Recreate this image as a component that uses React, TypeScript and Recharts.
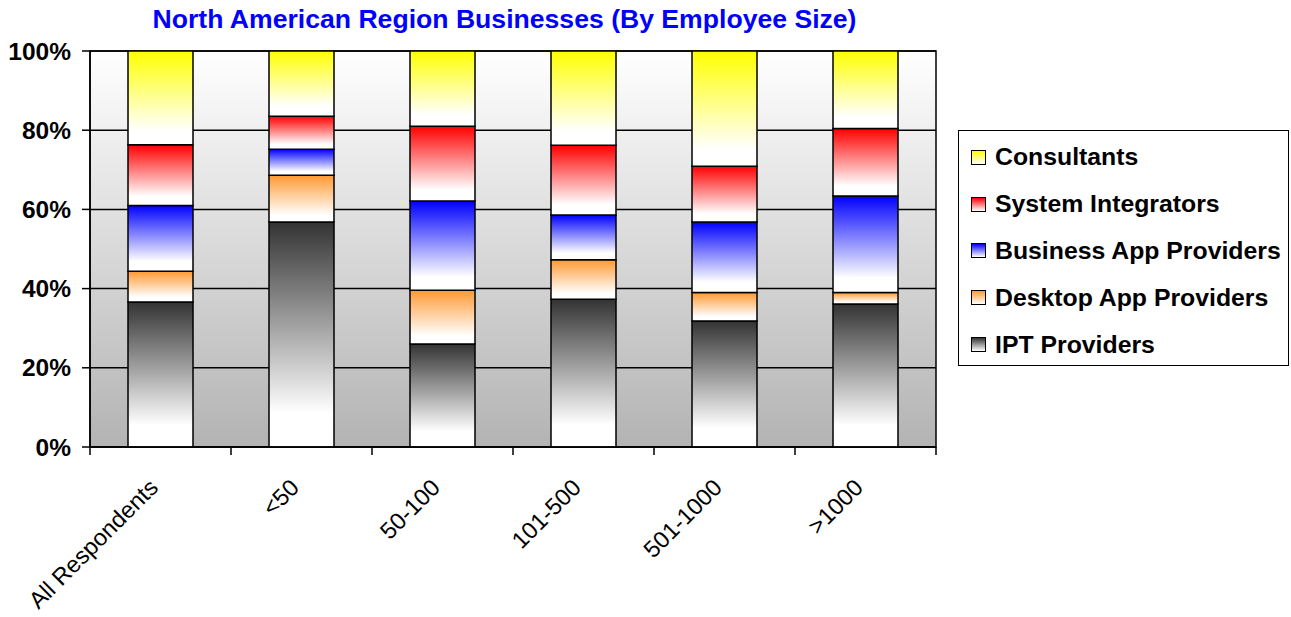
import { Bar, BarChart, CartesianGrid, Legend, ReferenceArea, XAxis, YAxis } from 'recharts'

// categories (employee size buckets)
const categories = ['All Respondents', '<50', '50-100', '101-500', '501-1000', '>1000']

// share of respondents per provider type, in %
const iptProviders = [36.6, 56.8, 26.0, 37.3, 31.8, 36.1]
const desktopAppProviders = [7.8, 11.8, 13.6, 10.0, 7.2, 2.9]
const businessAppProviders = [16.6, 6.6, 22.5, 11.3, 17.8, 24.4]
const systemIntegrators = [15.3, 8.3, 18.9, 17.6, 14.1, 17.0]
const consultants = [23.7, 16.5, 19.0, 23.8, 29.1, 19.6]

const yTicks = [0, 20, 40, 60, 80, 100]

// stacking order, bottom first
const series = [
  { key: 'ipt', name: 'IPT Providers', color: '#333333', values: iptProviders },
  { key: 'desktop', name: 'Desktop App Providers', color: '#ff9933', values: desktopAppProviders },
  { key: 'business', name: 'Business App Providers', color: '#0000ff', values: businessAppProviders },
  { key: 'si', name: 'System Integrators', color: '#ff0000', values: systemIntegrators },
  { key: 'consultants', name: 'Consultants', color: '#ffff00', values: consultants },
]

const data = categories.map((name, i) => {
  const row: Record<string, string | number> = { name }
  series.forEach((s) => {
    row[s.key] = s.values[i]
  })
  return row
})

const FONT = '"Liberation Sans", Arial, sans-serif'

// x 축 tick: 카테고리 경계에 눈금, 라벨은 45도 회전
const XTick = (props: any) => {
  const { x, y, payload, index } = props
  const half = payload?.offset || 70.5
  return (
    <g>
      <line x1={x - half} y1={y} x2={x - half} y2={y + 8} stroke="#000" strokeWidth={1.5} />
      {index === categories.length - 1 && (
        <line x1={x + half} y1={y} x2={x + half} y2={y + 8} stroke="#000" strokeWidth={1.5} />
      )}
      <text
        transform={`translate(${x - 1},${y + 42}) rotate(-45)`}
        textAnchor="end"
        fontFamily={FONT}
        fontSize={23.5}
        fill="#000"
      >
        {payload.value}
      </text>
    </g>
  )
}

const LegendBox = () => (
  <div
    style={{
      width: 331,
      height: 236,
      border: '1.5px solid #000',
      background: '#fff',
      boxSizing: 'border-box',
      paddingTop: 3,
      fontFamily: FONT,
    }}
  >
    {[...series].reverse().map((s) => (
      <div key={s.key} style={{ display: 'flex', alignItems: 'center', height: 46.8, paddingLeft: 12 }}>
        <div
          style={{
            width: 13,
            height: 13,
            border: '1.5px solid #000',
            background: `linear-gradient(to bottom, ${s.color}, #ffffff)`,
            marginRight: 9,
          }}
        />
        <span style={{ fontSize: 24.8, fontWeight: 'bold', color: '#000' }}>{s.name}</span>
      </div>
    ))}
  </div>
)

export default function App() {
  return (
    <div style={{ position: 'absolute', left: 0, top: 0, width: 1291, height: 617, background: '#fff' }}>
      <div
        style={{
          position: 'absolute',
          left: 0,
          top: 4,
          width: 1009,
          textAlign: 'center',
          fontFamily: FONT,
          fontWeight: 'bold',
          fontSize: 26.6,
          color: '#0000ff',
        }}
      >
        North American Region Businesses (By Employee Size)
      </div>
      <BarChart
        width={1291}
        height={617}
        data={data}
        margin={{ top: 51, right: 355, bottom: 50, left: 10 }}
        barSize={65}
      >
        <defs>
          <linearGradient id="plotBg" x1="0" y1="0" x2="0" y2="1">
            <stop offset="0%" stopColor="#ffffff" />
            <stop offset="100%" stopColor="#b3b3b3" />
          </linearGradient>
          {series.map((s) => (
            <linearGradient key={s.key} id={`grad-${s.key}`} x1="0" y1="0" x2="0" y2="1">
              <stop offset="0%" stopColor={s.color} />
              <stop offset="85%" stopColor="#ffffff" />
              <stop offset="100%" stopColor="#ffffff" />
            </linearGradient>
          ))}
        </defs>
        <CartesianGrid vertical={false} stroke="#000" strokeWidth={1.5} fill="url(#plotBg)" fillOpacity={1} />
        <XAxis
          dataKey="name"
          height={120}
          axisLine={{ stroke: '#000', strokeWidth: 1.5 }}
          tickLine={false}
          tickSize={0}
          tickMargin={0}
          interval={0}
          tick={<XTick />}
        />
        <YAxis
          width={80}
          domain={[0, 100]}
          ticks={yTicks}
          allowDataOverflow
          tickFormatter={(v: number) => `${v}%`}
          axisLine={{ stroke: '#000', strokeWidth: 1.5 }}
          tickLine={{ stroke: '#000', strokeWidth: 1.5 }}
          tickSize={8}
          tickMargin={11}
          tick={{ fill: '#000', fontSize: 24.5, fontWeight: 'bold', fontFamily: FONT }}
        />
        <ReferenceArea y1={0} y2={100} fill="none" stroke="#000" strokeWidth={1.5} ifOverflow="visible" />
        {series.map((s) => (
          <Bar
            key={s.key}
            dataKey={s.key}
            name={s.name}
            stackId="a"
            fill={`url(#grad-${s.key})`}
            stroke="#000"
            strokeWidth={1.5}
            isAnimationActive={false}
          />
        ))}
        <Legend
          layout="vertical"
          align="center"
          verticalAlign="middle"
          wrapperStyle={{ position: 'absolute', left: 958, top: 130, width: 331, height: 236 }}
          content={() => <LegendBox />}
        />
      </BarChart>
    </div>
  )
}
